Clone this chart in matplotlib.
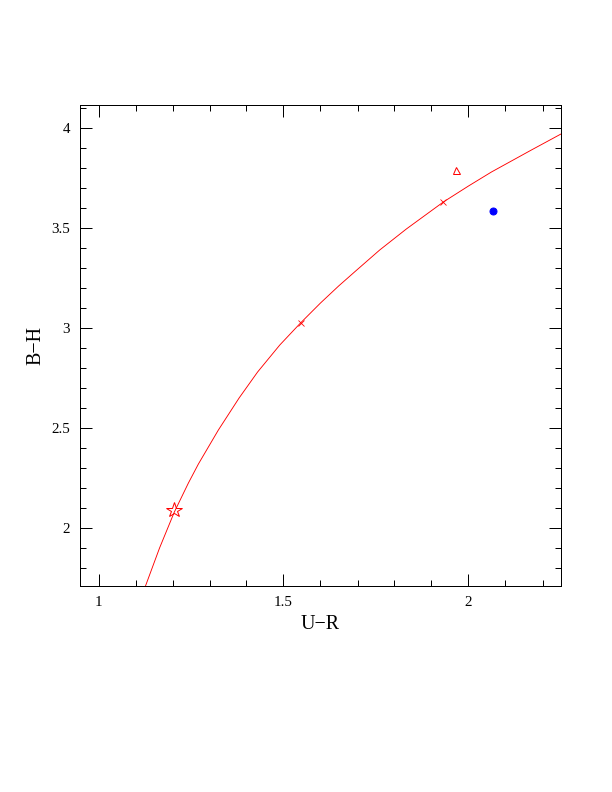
import matplotlib
matplotlib.use("Agg")
import matplotlib.pyplot as plt
from matplotlib.ticker import MultipleLocator

# model track
curve_ur = [1.127, 1.165, 1.205, 1.243, 1.270, 1.324, 1.380, 1.430, 1.490,
            1.546, 1.600, 1.649, 1.695, 1.760, 1.832, 1.932, 2.000, 2.062,
            2.170, 2.25]
curve_bh = [1.71, 1.90, 2.08, 2.225, 2.32, 2.49, 2.65, 2.78, 2.915,
            3.025, 3.125, 3.21, 3.285, 3.39, 3.495, 3.63, 3.71, 3.78,
            3.89, 3.97]

# marks on the track
cross_ur = [1.546, 1.932]
cross_bh = [3.025, 3.63]

star_ur, star_bh = [1.205], [2.09]
tri_ur, tri_bh = [1.965], [3.79]
dot_ur, dot_bh = [2.065], [3.585]

plt.rcParams["font.family"] = ["Liberation Serif", "DejaVu Serif"]

fig = plt.figure(figsize=(8.5, 11), dpi=72)
ax = fig.add_axes([80 / 612, 1 - 586 / 792, 481 / 612, 481 / 792])

ax.plot(curve_ur, curve_bh, color="red", lw=0.9)
ax.plot(cross_ur, cross_bh, "x", color="red", ms=6, mew=0.8)
ax.plot(star_ur, star_bh, "*", color="red", mfc="none", ms=16, mew=1.0)
ax.plot(tri_ur, tri_bh, "^", color="red", mfc="none", ms=7, mew=1.0)
ax.plot(dot_ur, dot_bh, "o", color="blue", ms=7)

ax.set_xlim(0.95, 2.25)
ax.set_ylim(1.71, 4.115)
ax.xaxis.set_major_locator(MultipleLocator(0.5))
ax.xaxis.set_minor_locator(MultipleLocator(0.1))
ax.yaxis.set_major_locator(MultipleLocator(0.5))
ax.yaxis.set_minor_locator(MultipleLocator(0.1))
ax.xaxis.set_major_formatter(plt.FuncFormatter(lambda v, p: f"{v:g}"))
ax.yaxis.set_major_formatter(plt.FuncFormatter(lambda v, p: f"{v:g}"))

ax.tick_params(which="both", direction="in", top=True, right=True,
               labelsize=15, width=1)
ax.tick_params(which="major", length=12, pad=10)
ax.tick_params(which="minor", length=6)
for s in ax.spines.values():
    s.set_linewidth(1)

ax.set_xlabel("U\u2212R", fontsize=20, labelpad=6)
ax.set_ylabel("B\u2212H", fontsize=20, labelpad=6)

fig.savefig("out.png", dpi=72)
